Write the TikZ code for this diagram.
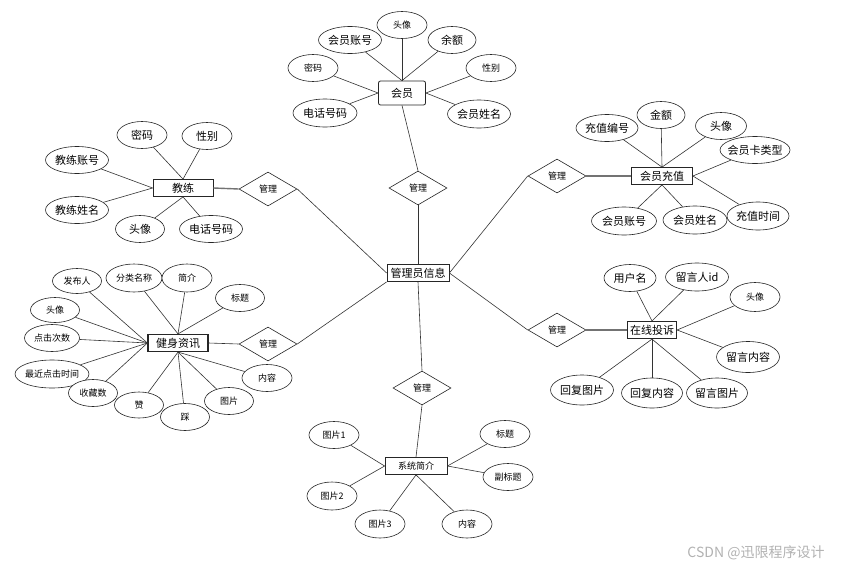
\documentclass[tikz,border=0pt]{standalone}
\usepackage{fontspec}
\setmainfont{Noto Sans CJK SC}
\usetikzlibrary{shapes.geometric}

\begin{document}
\begin{tikzpicture}[x=1pt, y=-1pt,
    attr/.style={ellipse, draw=black!85, fill=white, line width=0.6pt, inner sep=0pt, inner xsep=-3pt, minimum width=#1, minimum height=27pt, font=\fontsize{11}{13}\selectfont},
    attr/.default=50pt,
    small/.style={font=\fontsize{9}{11}\selectfont},
    entity/.style={rectangle, draw=black!85, fill=white, line width=0.8pt, minimum width=#1, minimum height=17pt, inner sep=1pt, font=\fontsize{11}{13}\selectfont},
    entity/.default=60pt,
    rel/.style={diamond, draw=black!85, fill=white, line width=0.6pt, inner sep=0pt, minimum width=58pt, minimum height=34pt, font=\fontsize{9}{11}\selectfont},
    link/.style={draw=black!80, line width=0.6pt},
    heavy/.style={draw=black!55, line width=1.4pt}
]
\fill[white] (0,0) rectangle (842,570);
\useasboundingbox (0,0) rectangle (842,570);

\node[entity=62pt] (admin) at (418,273) {管理员信息};

% member
\node[entity=47pt, rounded corners=2pt, minimum height=24pt] (member) at (402,93) {会员};
\node[rel] (mgrT) at (418,188) {管理};
\node[attr, small] (mtx) at (402,25) {头像};
\node[attr=63pt] (mzh) at (350,40) {会员账号};
\node[attr=48pt] (mye) at (452,40) {余额};
\node[attr, small] (mmm) at (313,68) {密码};
\node[attr, small] (mxb) at (491,68) {性别};
\node[attr=64pt, minimum height=28pt] (mdh) at (325,113) {电话号码};
\node[attr=63pt, minimum height=28pt] (mxm) at (479,114) {会员姓名};

% coach
\node[entity] (coach) at (183,188) {教练};
\node[rel] (mgrL1) at (268,189) {管理};
\node[attr] (kmm) at (142,135) {密码};
\node[attr] (kxb) at (207,136) {性别};
\node[attr=63pt] (kzh) at (77,160) {教练账号};
\node[attr=63pt] (kxm) at (77,210) {教练姓名};
\node[attr=49pt] (ktx) at (140,229) {头像};
\node[attr=63pt] (kdh) at (211,229) {电话号码};

% news
\node[entity, line width=1.2pt] (news) at (178,343) {健身资讯};
\node[rel] (mgrL2) at (268,344) {管理};
\node[attr=49pt, small, minimum height=25pt] (nfb) at (77,281) {发布人};
\node[attr=56pt, small, minimum height=28pt] (nfl) at (134,278) {分类名称};
\node[attr=50pt, small, minimum height=28pt] (njj) at (187,278) {简介};
\node[attr=49pt, small] (nbt) at (240,298) {标题};
\node[attr=49pt, small, minimum height=25pt] (ntx) at (55,310) {头像};
\node[attr=55pt, small] (ndj) at (52,338) {点击次数};
\node[attr=74pt, small, minimum height=28pt] (nzj) at (52,374) {最近点击时间};
\node[attr=49pt, small] (nsc) at (93,393) {收藏数};
\node[attr=49pt, small, minimum height=26pt] (nz) at (139,405) {赞};
\node[attr=49pt, small] (nc) at (185,417) {踩};
\node[attr=49pt, small] (ntp) at (229,401) {图片};
\node[attr=50pt, small] (nnr) at (267,378) {内容};

% recharge
\node[entity=61pt] (rech) at (662,176) {会员充值};
\node[rel] (mgrR1) at (557,176) {管理};
\node[attr=62pt] (rbh) at (607,128) {充值编号};
\node[attr=48pt] (rje) at (661,115) {金额};
\node[attr=51pt] (rtx) at (721,126) {头像};
\node[attr=70pt] (rlx) at (755,150) {会员卡类型};
\node[attr=65pt, minimum height=28pt] (rzh) at (624,221) {会员账号};
\node[attr=64pt, minimum height=28pt] (rxm) at (695,220) {会员姓名};
\node[attr=62pt, minimum height=28pt] (rsj) at (758,216) {充值时间};

% complaint
\node[entity=49pt, line width=1.2pt] (comp) at (652,330) {在线投诉};
\node[rel] (mgrR2) at (557,330) {管理};
\node[attr=52pt] (qyh) at (630,278) {用户名};
\node[attr=63pt, minimum height=28pt] (qid) at (697,277) {留言人id};
\node[attr=50pt, small, minimum height=29pt] (qtx) at (755,297) {头像};
\node[attr=63pt, minimum height=31pt] (qnr) at (748,357) {留言内容};
\node[attr=63pt, minimum height=30pt] (qhtp) at (582,390) {回复图片};
\node[attr=61pt, minimum height=30pt] (qhnr) at (652,393) {回复内容};
\node[attr=61pt, minimum height=30pt] (qltp) at (717,393) {留言图片};

% about
\node[entity=62pt, small] (intro) at (416,466) {系统简介};
\node[rel] (mgrB) at (422,388) {管理};
\node[attr, small] (ip1) at (334,435) {图片1};
\node[attr, small, minimum height=28pt] (ip2) at (332,496) {图片2};
\node[attr, small, minimum height=28pt] (ip3) at (380,524) {图片3};
\node[attr, small, minimum height=28pt] (inr) at (467,524) {内容};
\node[attr, small] (ibt) at (505,434) {标题};
\node[attr, small] (ifb) at (508,477) {副标题};

\node[text=black!30, font=\fontsize{14}{16}\selectfont] (mark) at (756,553) {CSDN @迅限程序设计};

% connectors
\draw[link] (mtx) -- (member.north);
\draw[link] (mzh) -- (member.north);
\draw[link] (mye) -- (member.north);
\draw[link] (mmm) -- (member.west);
\draw[link] (mdh) -- (member.west);
\draw[link] (mxb) -- (member.east);
\draw[link] (mxm) -- (member.east);
\draw[link] (member.south) -- (mgrT.north);
\draw[link] (mgrT.south) -- (admin.north);

\draw[link] (kmm) -- (coach.north);
\draw[link] (kxb) -- (coach.north);
\draw[link] (kzh) -- (coach.west);
\draw[link] (kxm) -- (coach.west);
\draw[link] (ktx) -- (coach.south);
\draw[link] (kdh) -- (coach.south);
\draw[heavy] (coach.east) -- (mgrL1.west);
\draw[link] (mgrL1.east) -- (admin.west);

\draw[link] (nfb) -- (news.west);
\draw[link] (ntx) -- (news.west);
\draw[link] (ndj) -- (news.west);
\draw[link] (nzj) -- (news.west);
\draw[link] (nsc) -- (news.west);
\draw[link] (nfl) -- (news.north);
\draw[link] (njj) -- (news.north);
\draw[link] (nbt) -- (news.north);
\draw[link] (nz) -- (news.south);
\draw[link] (nc) -- (news.south);
\draw[link] (ntp) -- (news.south);
\draw[link] (nnr) -- (news.south);
\draw[link] (news.east) -- (mgrL2.west);
\draw[link] (mgrL2.east) -- (admin.south west);

\draw[link] (rbh) -- (rech.north);
\draw[link] (rje) -- (rech.north);
\draw[link] (rtx) -- (rech.north);
\draw[link] (rlx) -- (rech.east);
\draw[link] (rsj) -- (rech.east);
\draw[link] (rzh) -- (rech.south);
\draw[link] (rxm) -- (rech.south);
\draw[heavy] (mgrR1.east) -- (rech.west);
\draw[link] (admin.east) -- (mgrR1.west);

\draw[link] (qyh) -- (comp.north);
\draw[link] (qid) -- (comp.north);
\draw[link] (qtx) -- (comp.east);
\draw[link] (qnr) -- (comp.east);
\draw[link] (qhtp) -- (comp.south);
\draw[link] (qhnr) -- (comp.south);
\draw[link] (qltp) -- (comp.south);
\draw[heavy] (mgrR2.east) -- (comp.west);
\draw[link] (admin.east) -- (mgrR2.west);

\draw[link] (ip1) -- (intro.west);
\draw[link] (ip2) -- (intro.west);
\draw[link] (ip3) -- (intro.south);
\draw[link] (inr) -- (intro.south);
\draw[link] (ibt) -- (intro.east);
\draw[link] (ifb) -- (intro.east);
\draw[link] (admin.south) -- (mgrB.north);
\draw[link] (mgrB.south) -- (intro.north);
\end{tikzpicture}
\end{document}
